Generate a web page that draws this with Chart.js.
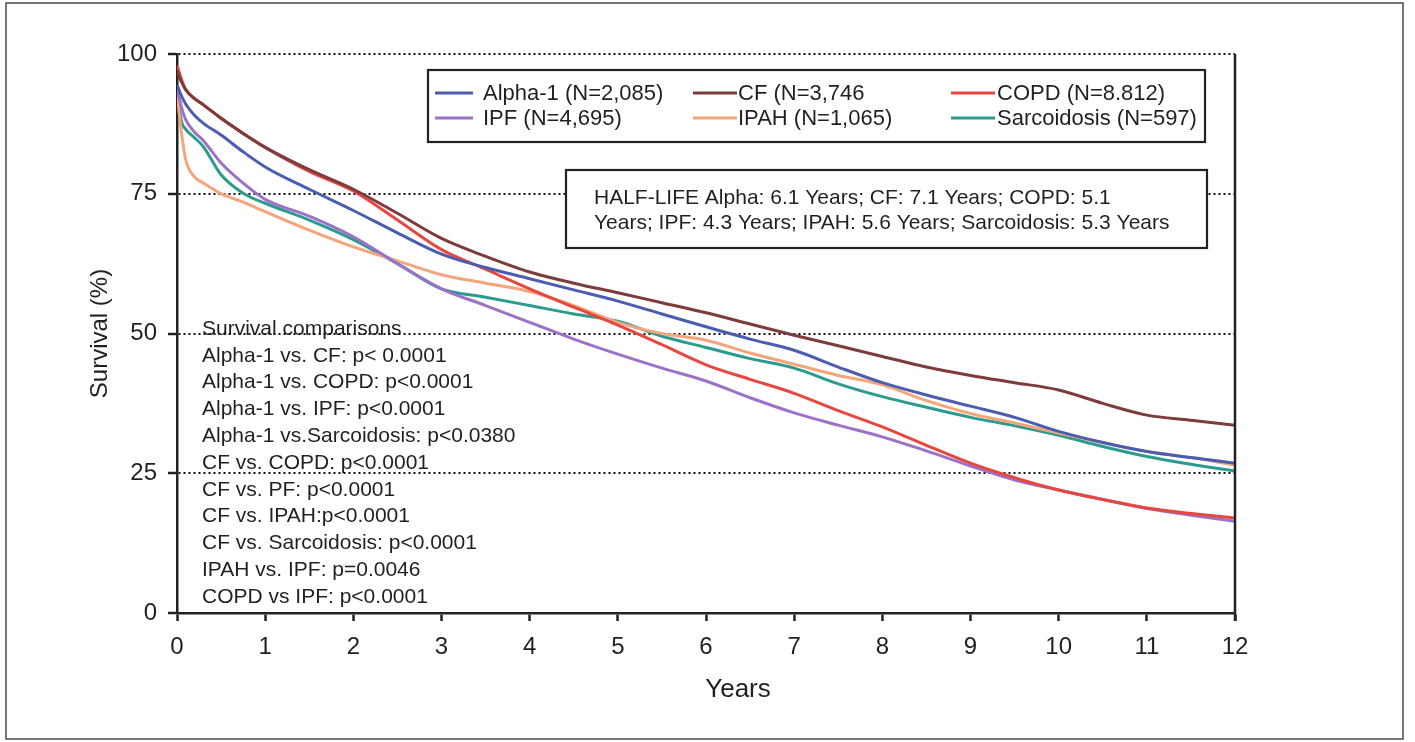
<!DOCTYPE html>
<html>
<head>
<meta charset="utf-8">
<script src="https://cdn.jsdelivr.net/npm/chart.js@4"></script>
<style>
  body { margin: 0; background: #fff; }
  #wrap { width: 1415px; height: 742px; position: relative; }
</style>
</head>
<body>
<div id="wrap"><canvas id="myChart"></canvas></div>
<script>
// survival curves (years, % surviving)
var years = [0, 0.05, 0.1, 0.2, 0.3, 0.5, 0.75, 1, 1.5, 2, 2.5, 3, 3.5, 4, 4.5, 5, 5.5, 6, 6.5, 7, 7.5, 8, 8.5, 9, 9.5, 10, 10.5, 11, 11.5, 12];

var alpha1 = [94.5, 92.5, 91, 89, 87.6, 85.5, 82.5, 79.8, 75.8, 72, 68, 64.2, 61.8, 59.8, 57.8, 55.8, 53.5, 51.2, 49, 47, 44, 41.2, 39, 37, 35, 32.5, 30.5, 28.9, 27.8, 26.8];
var cf = [97, 95, 93.6, 92, 90.9, 88.5, 85.8, 83.3, 79.3, 75.8, 71.5, 67, 63.8, 61, 59, 57.3, 55.5, 53.7, 51.7, 49.7, 47.8, 45.9, 44, 42.5, 41.2, 39.9, 37.5, 35.4, 34.5, 33.6];
var copd = [98, 95.5, 93.6, 92, 90.9, 88.5, 85.8, 83.3, 79, 75.5, 70.3, 65, 61.5, 58, 54.7, 51.5, 48, 44.4, 41.8, 39.3, 36.2, 33.3, 30, 26.8, 24.2, 22, 20.3, 18.8, 17.8, 17];
var ipf = [94, 90.5, 88.2, 86, 84.5, 80.5, 76.9, 74, 71, 67.3, 62.5, 58, 55, 52, 49, 46.3, 43.8, 41.5, 38.5, 35.8, 33.6, 31.5, 29, 26.3, 23.8, 22, 20.3, 18.7, 17.5, 16.4];
var ipah = [93, 86, 81, 78, 76.9, 75, 73.5, 71.8, 68.5, 65.5, 63, 60.5, 59, 57.5, 55, 52, 50, 48.8, 46.5, 44.5, 42.5, 40.8, 38, 35.7, 34, 32.2, 30.5, 28.9, 27.8, 26.5];
var sarcoidosis = [93.5, 88, 86.5, 85, 83.4, 78.4, 75.1, 73.3, 70.3, 66.8, 62.5, 58, 56.5, 55, 53.5, 52.2, 49.5, 47.5, 45.5, 43.8, 41, 38.7, 36.8, 35, 33.5, 31.8, 29.8, 28, 26.6, 25.4];

var seriesNames = ['Alpha-1 (N=2,085)', 'CF (N=3,746', 'COPD (N=8.812)', 'IPF (N=4,695)', 'IPAH (N=1,065)', 'Sarcoidosis (N=597)'];
var seriesColors = ['#4c5db0', '#7d3b3c', '#e8473f', '#9c72c9', '#f5a57c', '#2b9b8e'];

var halfLife = [
  'HALF-LIFE Alpha: 6.1 Years; CF: 7.1 Years; COPD: 5.1',
  'Years; IPF: 4.3 Years; IPAH: 5.6 Years; Sarcoidosis: 5.3 Years'
];
var comparisons = [
  'Survival comparisons',
  'Alpha-1 vs. CF: p< 0.0001',
  'Alpha-1 vs. COPD: p<0.0001',
  'Alpha-1 vs. IPF: p<0.0001',
  'Alpha-1 vs.Sarcoidosis: p<0.0380',
  'CF vs. COPD: p<0.0001',
  'CF vs. PF: p<0.0001',
  'CF vs. IPAH:p<0.0001',
  'CF vs. Sarcoidosis: p<0.0001',
  'IPAH vs. IPF: p=0.0046',
  'COPD vs IPF: p<0.0001'
];

var FONT = '"Liberation Sans", Arial, Helvetica, sans-serif';
var INK = '#231f20';

function pts(vals) {
  return vals.map(function(v, i) { return {x: years[i], y: v}; });
}

var allSeries = [alpha1, cf, copd, ipf, ipah, sarcoidosis];
var datasets = allSeries.map(function(vals, i) {
  return {
    label: seriesNames[i],
    data: pts(vals),
    borderColor: seriesColors[i],
    backgroundColor: seriesColors[i],
    borderWidth: 3,
    pointRadius: 0,
    cubicInterpolationMode: 'monotone',
    fill: false
  };
});

// frame, boxed legend, half-life box and comparison notes
var extras = {
  id: 'extras',
  beforeDraw: function(chart) {
    var ctx = chart.ctx;
    ctx.save();
    ctx.fillStyle = '#fff';
    ctx.fillRect(0, 0, chart.width, chart.height);
    ctx.restore();
  },
  afterDraw: function(chart) {
    var ctx = chart.ctx;
    var xs = chart.scales.x, ys = chart.scales.y;
    ctx.save();

    // outer frame
    ctx.strokeStyle = '#4a4a4a';
    ctx.lineWidth = 1.5;
    ctx.strokeRect(6, 3, 1397, 736);

    // right-hand border of the plot
    ctx.strokeStyle = '#222';
    ctx.lineWidth = 2.5;
    var rx = Math.round(xs.getPixelForValue(12));
    ctx.beginPath();
    ctx.moveTo(rx, ys.getPixelForValue(100));
    ctx.lineTo(rx, ys.getPixelForValue(0) + 8);
    ctx.stroke();

    // x axis title (sits a little right of centre in the original)
    ctx.font = '26px ' + FONT;
    ctx.fillStyle = INK;
    ctx.textAlign = 'center';
    ctx.textBaseline = 'middle';
    ctx.fillText('Years', 738, 690);

    // legend box
    ctx.fillStyle = '#fff';
    ctx.fillRect(428, 70, 777, 72);
    ctx.lineWidth = 2.2;
    ctx.strokeStyle = '#222';
    ctx.strokeRect(428, 70, 777, 72);
    var rowY = [93, 118];
    var sampleX = [435, 693, 951];
    var sampleLen = [38, 44, 44];
    var textX = [483, 738, 997];
    ctx.font = '22px ' + FONT;
    ctx.textBaseline = 'middle';
    ctx.textAlign = 'left';
    chart.data.datasets.forEach(function(ds, i) {
      var col = i % 3, row = Math.floor(i / 3);
      ctx.strokeStyle = ds.borderColor;
      ctx.lineWidth = 3;
      ctx.beginPath();
      ctx.moveTo(sampleX[col], rowY[row]);
      ctx.lineTo(sampleX[col] + sampleLen[col], rowY[row]);
      ctx.stroke();
      ctx.fillStyle = INK;
      ctx.fillText(ds.label, textX[col], rowY[row] + 1);
    });

    // half-life box
    ctx.fillStyle = '#fff';
    ctx.fillRect(566, 170, 641, 78);
    ctx.strokeStyle = '#222';
    ctx.lineWidth = 2.2;
    ctx.strokeRect(566, 170, 641, 78);
    ctx.font = '21px ' + FONT;
    ctx.fillStyle = INK;
    halfLife.forEach(function(t, i) {
      ctx.fillText(t, 594, 198 + i * 25);
    });

    // survival comparisons
    comparisons.forEach(function(t, i) {
      ctx.fillText(t, 202, 329 + i * 26.8);
    });

    ctx.restore();
  }
};

var config = {
  type: 'line',
  data: { datasets: datasets },
  options: {
    responsive: true,
    maintainAspectRatio: false,
    animation: false,
    events: [],
    layout: { padding: { left: 0, top: 54, right: 180, bottom: 0 } },
    plugins: {
      legend: { display: false },
      tooltip: { enabled: false }
    },
    scales: {
      x: {
        type: 'linear',
        min: 0,
        max: 12,
        afterFit: function(s) { s.height = 129; },
        ticks: {
          stepSize: 1,
          color: INK,
          padding: 12,
          maxRotation: 0,
          font: { family: FONT, size: 24 }
        },
        grid: {
          drawOnChartArea: false,
          drawTicks: true,
          tickLength: 8,
          tickWidth: 2.5,
          tickColor: '#222'
        },
        border: { display: true, color: '#222', width: 2.5 }
      },
      y: {
        min: 0,
        max: 100,
        afterFit: function(s) { s.width = 177; },
        ticks: {
          stepSize: 25,
          color: INK,
          padding: 11,
          font: { family: FONT, size: 24 }
        },
        grid: {
          color: function(c) { return c.tick && c.tick.value === 0 ? 'rgba(0,0,0,0)' : '#111'; },
          lineWidth: 2,
          drawTicks: true,
          tickLength: 9,
          tickWidth: 2.5,
          tickColor: '#222'
        },
        border: { display: true, color: '#222', width: 2.5, dash: [2, 3] },
        title: {
          display: true,
          text: 'Survival (%)',
          color: INK,
          font: { family: FONT, size: 24 },
          padding: { top: 86, bottom: 0 }
        }
      }
    }
  },
  plugins: [extras]
};

var myChart = new Chart(document.getElementById('myChart'), config);
</script>
</body>
</html>
